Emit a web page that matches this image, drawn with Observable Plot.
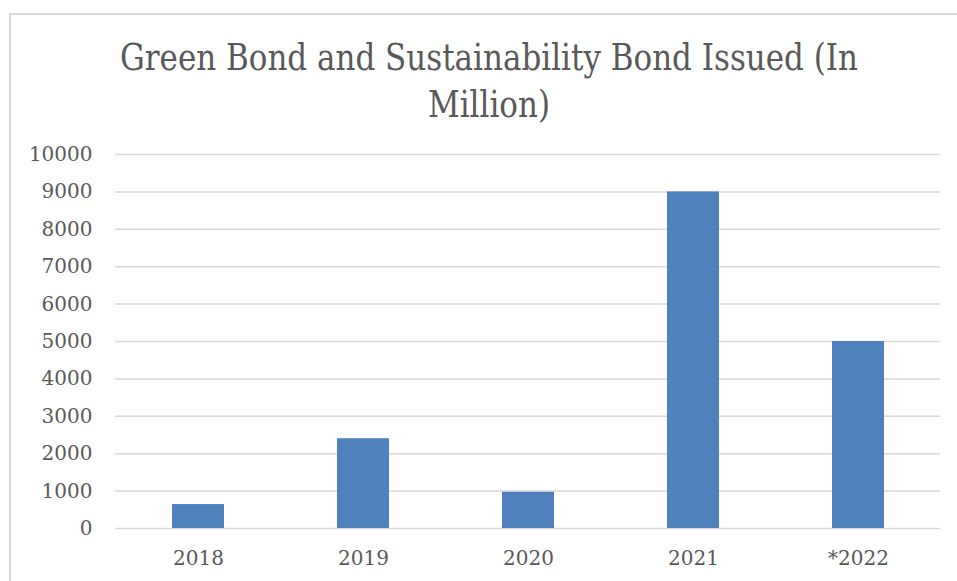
<!DOCTYPE html>
<html>
<head>
<meta charset="utf-8">
<script src="https://cdn.jsdelivr.net/npm/d3@7"></script>
<script src="https://cdn.jsdelivr.net/npm/@observablehq/plot@0.6"></script>
<style>
  html, body { margin: 0; padding: 0; background: white; }
  #wrap { position: relative; width: 957px; height: 581px; overflow: hidden; background: white; }
  #frame { position: absolute; left: 9px; top: 13px; width: 1000px; height: 700px;
           border-top: 2px solid #D9D9D9; border-left: 2px solid #D9D9D9; box-sizing: border-box; }
  #title { position: absolute; left: 9px; top: 34px; width: 960px; text-align: center;
           font-family: "DejaVu Serif"; font-size: 37px; line-height: 47px; color: #595959;
           transform-origin: 480px 0; white-space: nowrap; }
  #chart { position: absolute; left: 0; top: 130px; }
</style>
</head>
<body>
<div id="wrap">
  <div id="frame"></div>
  <div id="title"><span id="l1">Green Bond and Sustainability Bond Issued (In</span><br><span>Million)</span></div>
  <div id="chart"></div>
</div>
<script>
const categories = ["2018", "2019", "2020", "2021", "*2022"];
const values = [640, 2400, 970, 9000, 5000];
const yTicks = [0, 1000, 2000, 3000, 4000, 5000, 6000, 7000, 8000, 9000, 10000];

const data = categories.map((c, i) => ({year: c, value: values[i]}));

const chart = Plot.plot({
  width: 957,
  height: 451,
  marginLeft: 115,
  marginRight: 17,
  marginTop: 24,
  marginBottom: 53,
  style: {fontFamily: "DejaVu Serif", fontSize: "20px", color: "#595959", background: "transparent"},
  x: {domain: categories, paddingInner: 0.685, paddingOuter: 0.3425, label: null},
  y: {domain: [0, 10000], label: null},
  marks: [
    Plot.gridY(yTicks, {stroke: "#D9D9D9", strokeOpacity: 1, strokeWidth: 1.5}),
    Plot.barY(data, {x: "year", y: "value", fill: "#4F81BD"}),
    Plot.axisY(yTicks, {tickSize: 0, tickPadding: 23, tickFormat: d => String(d), fill: "#595959", fontSize: 20}),
    Plot.axisX({tickSize: 0, tickPadding: 22, fill: "#595959", fontSize: 20})
  ]
});
document.getElementById("chart").appendChild(chart);

const l1 = document.getElementById("l1");
const w = l1.getBoundingClientRect().width;
document.getElementById("title").style.transform = `scaleX(${738 / w})`;
</script>
</body>
</html>
